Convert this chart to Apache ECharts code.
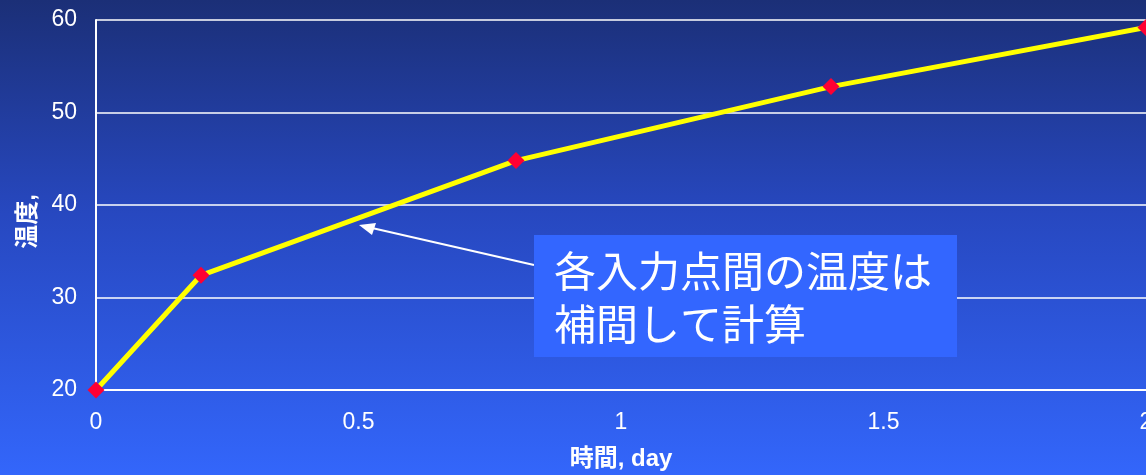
<!DOCTYPE html>
<html><head><meta charset="utf-8">
<script src="https://cdn.jsdelivr.net/npm/echarts@6/dist/echarts.min.js"></script>
<style>html,body{margin:0;padding:0;}#c{width:1146px;height:475px;}</style>
</head><body><div id="c"></div>
<script>
const timeDays = [0, 0.2, 0.8, 1.4, 2.0];
const temperature = [20, 32.4, 44.8, 52.8, 59.2];
const xAxisName = '時間, day';
const yAxisName = '温度,';
const noteLines = ['各入力点間の温度は', '補間して計算'];

const chart = echarts.init(document.getElementById('c'));
const font = '"Liberation Sans", Arial, "Noto Sans CJK JP", sans-serif';
chart.setOption({
  backgroundColor: new echarts.graphic.LinearGradient(0, 0, 0, 1, [
    {offset: 0, color: '#1b2f77'},
    {offset: 0.45, color: '#2748c0'},
    {offset: 1, color: '#3366fb'}
  ]),
  animation: false,
  grid: {left: 96, top: 20, right: 0, bottom: 85, containLabel: false, outerBoundsMode: 'none'},
  xAxis: {
    type: 'value', min: 0, max: 2, interval: 0.5,
    name: xAxisName, nameLocation: 'middle', nameGap: 57,
    nameTextStyle: {color: '#fff', fontSize: 24, fontWeight: 'bold', fontFamily: font},
    axisLine: {show: true, lineStyle: {color: '#fff', width: 2}},
    axisTick: {show: false},
    splitLine: {show: false},
    axisLabel: {color: '#fff', fontSize: 23, margin: 21, fontFamily: font,
      formatter: v => String(v)}
  },
  yAxis: {
    type: 'value', min: 20, max: 60, interval: 10,
    name: yAxisName, nameLocation: 'middle', nameGap: 51, nameRotate: 90,
    nameTextStyle: {color: '#fff', fontSize: 24, fontWeight: 'bold', fontFamily: font, padding: [0, 33, 0, 0]},
    axisLine: {show: true, lineStyle: {color: '#fff', width: 2}},
    axisTick: {show: false},
    splitLine: {show: true, lineStyle: {color: '#ffffff', width: 1.5}},
    axisLabel: {color: '#fff', fontSize: 23, margin: 19, fontFamily: font, padding: [5, 0, 0, 0]}
  },
  series: [{
    type: 'line',
    data: timeDays.map((t, i) => [t, temperature[i]]),
    lineStyle: {color: '#ffff00', width: 5},
    itemStyle: {color: '#ff0033'},
    symbol: 'diamond', symbolSize: 17,
    z: 5
  }],
  graphic: [
    {type: 'line', shape: {x1: 534, y1: 265, x2: 372, y2: 228}, style: {stroke: '#fff', lineWidth: 2}, z: 10},
    {type: 'polygon', shape: {points: [[359, 225], [376, 223], [372, 235]]}, style: {fill: '#fff'}, z: 10},
    {type: 'rect', shape: {x: 534, y: 235, width: 423, height: 122}, style: {fill: '#3366ff'}, z: 10},
    {type: 'text', x: 554, y: 245, z: 11,
      style: {text: noteLines.join('\n'), fill: '#fff', fontSize: 42, lineHeight: 53,
        fontFamily: '"Noto Sans CJK JP", sans-serif'}}
  ]
});
</script></body></html>
